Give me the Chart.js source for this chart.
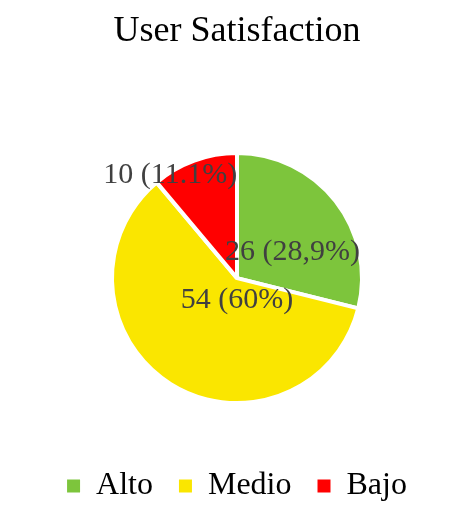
<!DOCTYPE html>
<html lang="en">
<head>
<meta charset="UTF-8">
<meta name="viewport" content="width=device-width, initial-scale=1.0">
<title>User Satisfaction</title>
<script src="https://cdn.jsdelivr.net/npm/chart.js"></script>
<style>
    html, body { margin: 0; padding: 0; background: #fff; }
    #wrap { width: 450px; height: 517px; }
</style>
</head>
<body>
<div id="wrap"><canvas id="satisfactionChart"></canvas></div>

<script>
    const categories = ['Alto', 'Medio', 'Bajo'];
    const counts = [26, 54, 10];
    const valueLabels = ['26 (28,9%)', '54 (60%)', '10 (11.1%)'];
    const sliceColors = ['#7DC53C', '#FAE600', '#FF0000'];

    // where each value label sits: angle from 12 o'clock (deg), fraction of pie radius
    const labelSpots = [[65, 0.49], [180, 0.18], [327, 0.98]];

    const serif = "'Liberation Serif', 'Times New Roman', serif";

    const valueLabelPlugin = {
        id: 'valueLabels',
        afterDatasetsDraw(chart) {
            const ctx = chart.ctx;
            const arcs = chart.getDatasetMeta(0).data;
            ctx.save();
            ctx.font = '30px ' + serif;
            ctx.fillStyle = '#404040';
            ctx.textAlign = 'center';
            ctx.textBaseline = 'middle';
            arcs.forEach((arc, i) => {
                const {x, y, outerRadius} = arc.getProps(['x', 'y', 'outerRadius'], true);
                const a = labelSpots[i][0] * Math.PI / 180;
                const r = outerRadius * labelSpots[i][1];
                ctx.fillText(valueLabels[i], x + Math.sin(a) * r, y - Math.cos(a) * r);
            });
            ctx.restore();
        }
    };

    const ctx = document.getElementById('satisfactionChart').getContext('2d');
    new Chart(ctx, {
        type: 'pie',
        data: {
            labels: categories,
            datasets: [{
                data: counts,
                backgroundColor: sliceColors,
                borderColor: '#ffffff',
                borderWidth: 4,
                radius: 125
            }]
        },
        options: {
            responsive: true,
            maintainAspectRatio: false,
            animation: false,
            layout: { padding: { left: 24, bottom: 5 } },
            plugins: {
                title: {
                    display: true,
                    text: 'User Satisfaction',
                    color: '#000',
                    font: { family: serif, size: 36, weight: 'normal' },
                    padding: { top: 10, bottom: 59 }
                },
                legend: {
                    position: 'bottom',
                    labels: {
                        boxWidth: 13,
                        boxHeight: 13,
                        padding: 26,
                        color: '#000',
                        font: { family: serif, size: 32 },
                        generateLabels(chart) {
                            const items = Chart.overrides.pie.plugins.legend.labels.generateLabels(chart);
                            items.forEach(it => { it.lineWidth = 0; });
                            return items;
                        }
                    }
                },
                tooltip: { enabled: false }
            }
        },
        plugins: [valueLabelPlugin]
    });
</script>
</body>
</html>
